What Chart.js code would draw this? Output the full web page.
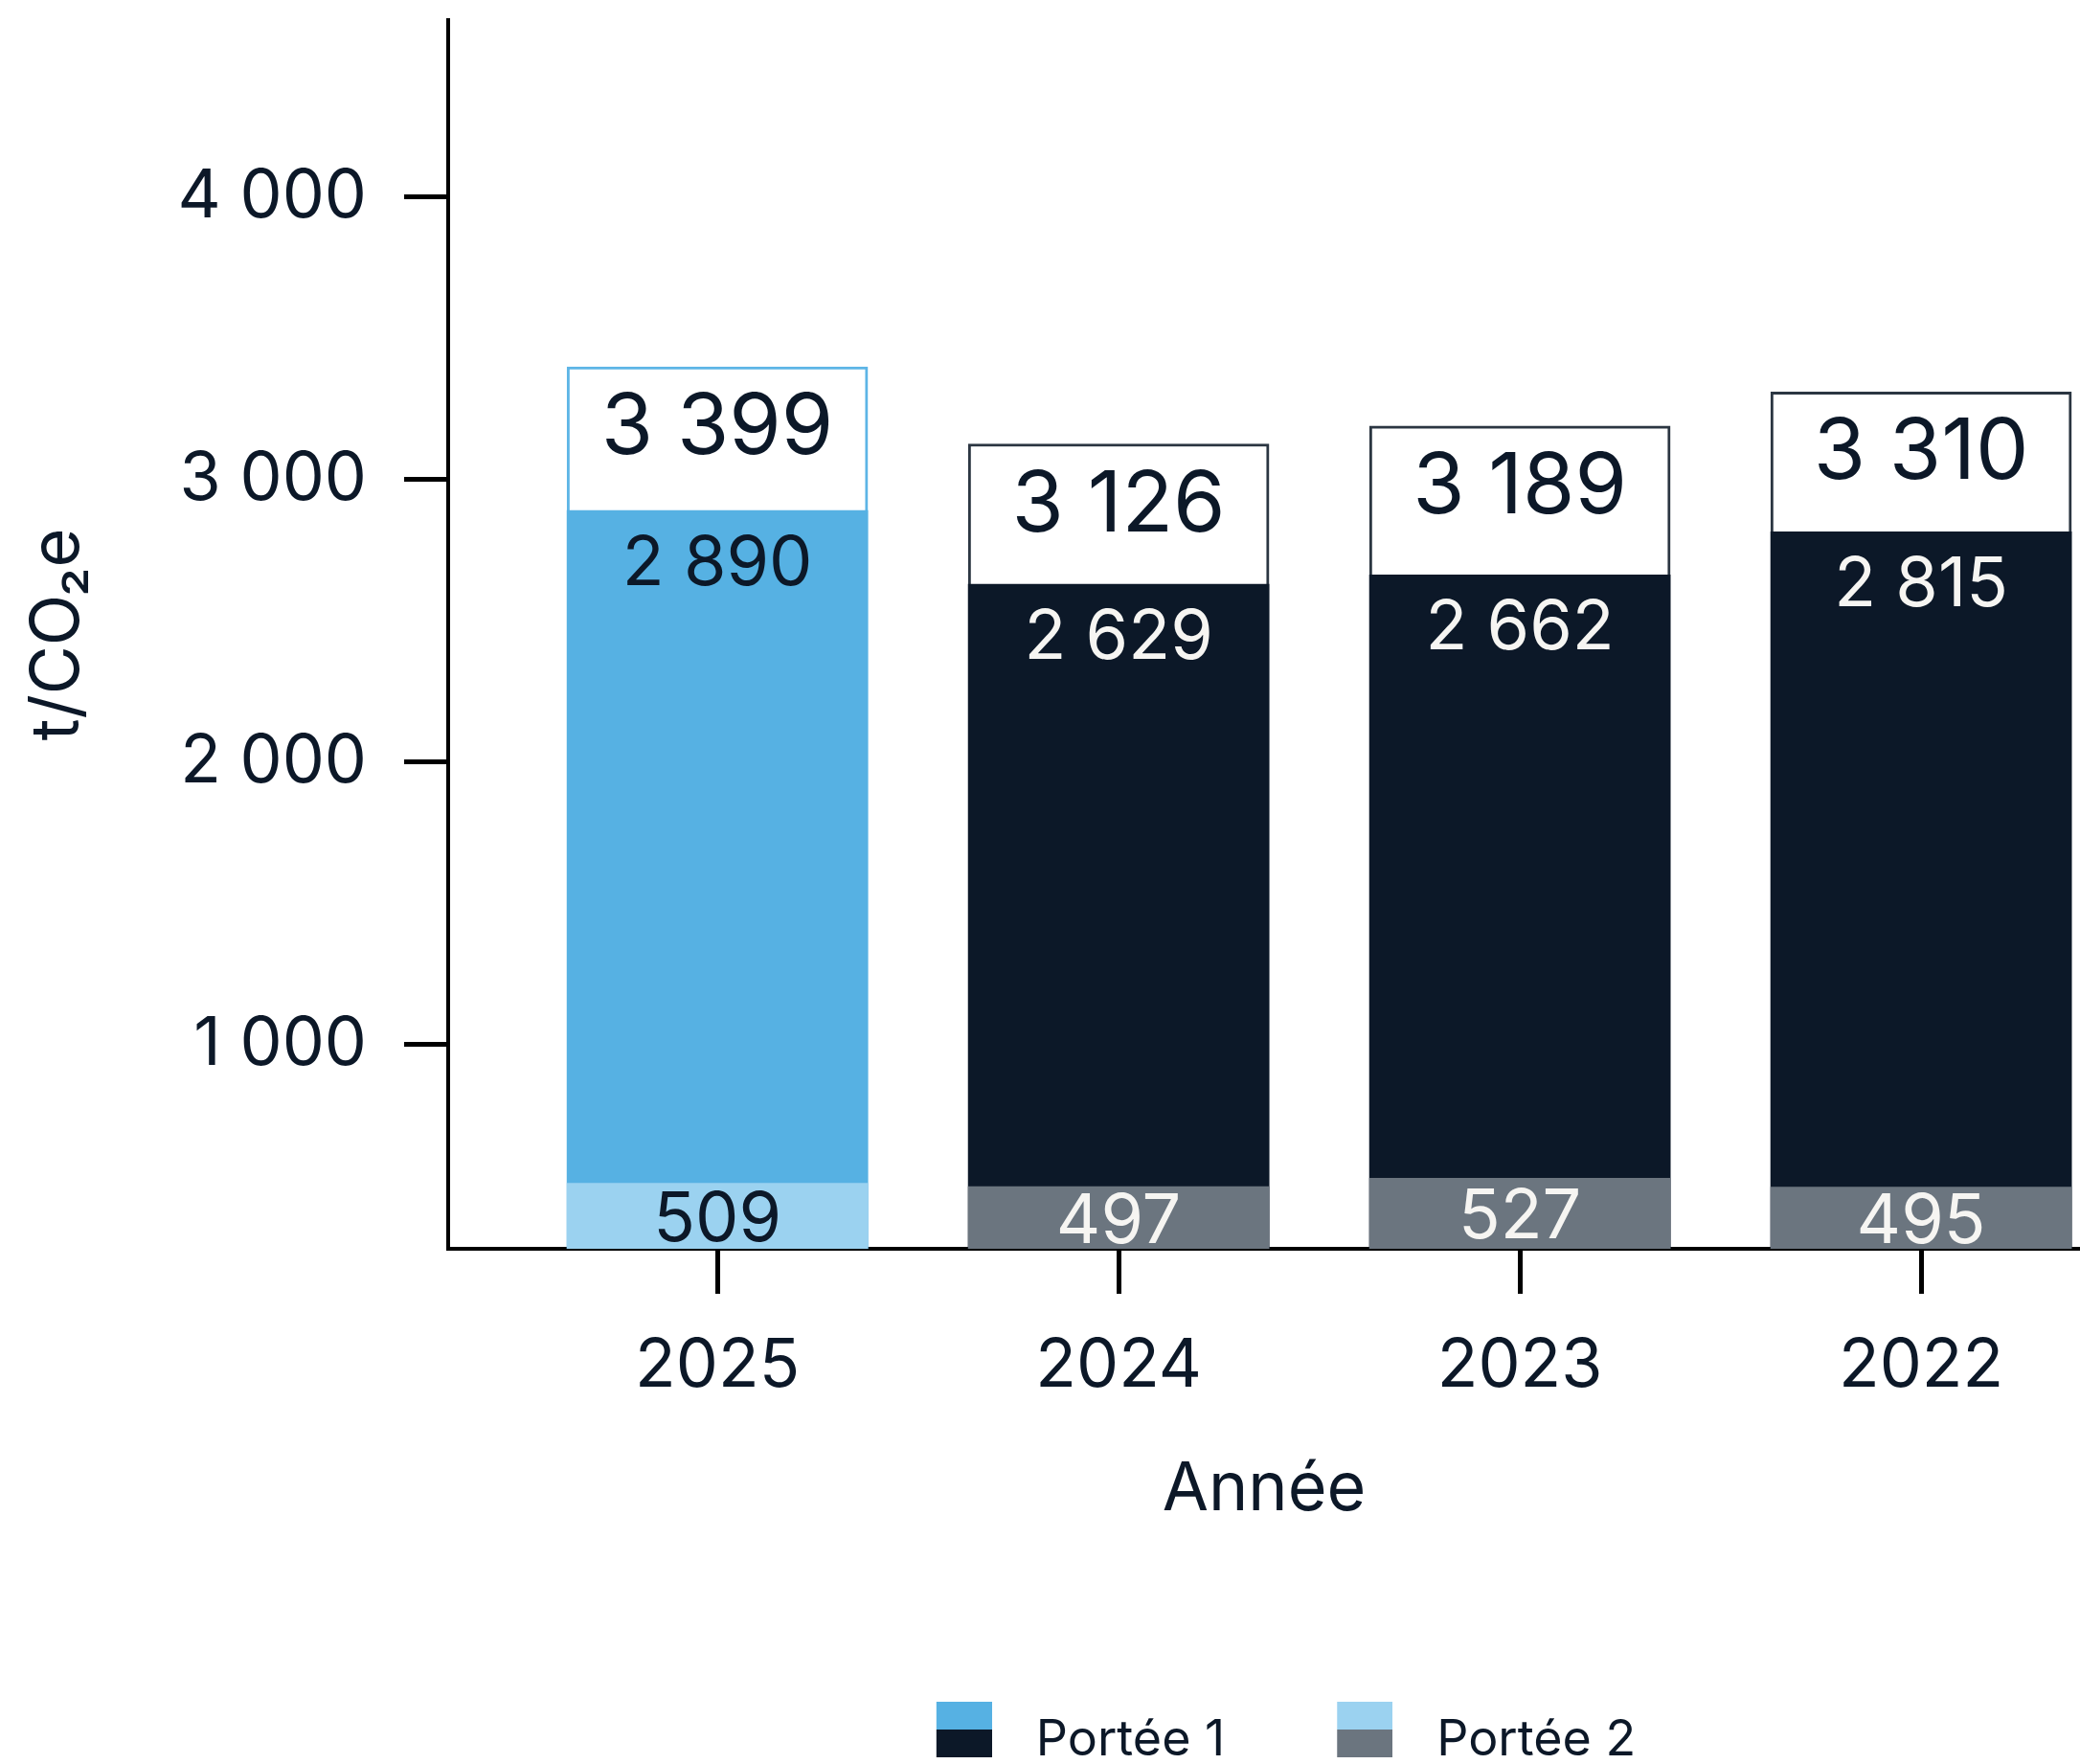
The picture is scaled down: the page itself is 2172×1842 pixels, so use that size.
<!DOCTYPE html>
<html>
<head>
<meta charset="utf-8">
<script src="https://cdn.jsdelivr.net/npm/chart.js@4/dist/chart.umd.min.js"></script>
<style>
  html, body { margin: 0; padding: 0; background: #ffffff; overflow: hidden; }
  #wrap { width: 2172px; height: 1842px; position: relative; }
  canvas { display: block; }
</style>
</head>
<body>
<div id="wrap"><canvas id="chart" width="2172" height="1842"></canvas></div>
<script>
// ---------- DATA ----------
const years = ['2025', '2024', '2023', '2022'];
const portee1 = [2890, 2629, 2662, 2815];
const portee2 = [509, 497, 527, 495];
const totals = [3399, 3126, 3189, 3310];
const yTickValues = [1000, 2000, 3000, 4000];
const seriesNames = ['Portée 1', 'Portée 2'];
const xAxisTitle = 'Année';
const yAxisTitle = 't/CO\u2082e';

// ---------- STYLE ----------
const FONT = 'Inter, "Liberation Sans", sans-serif';
const NAVY = '#0C1828';
const BLUE = '#56B1E3';
const LIGHT_BLUE = '#9BD2F0';
const GREY = '#6B757F';
const OFF_WHITE = '#F6F5F2';
const BOX_BORDER_2025 = '#5DB5E6';
const BOX_BORDER = '#2B3642';

const p1Colors = years.map((y, i) => i === 0 ? BLUE : NAVY);
const p2Colors = years.map((y, i) => i === 0 ? LIGHT_BLUE : GREY);
const boxBorders = years.map((y, i) => i === 0 ? BOX_BORDER_2025 : BOX_BORDER);

const fmt = v => String(v).replace(/\B(?=(\d{3})+(?!\d))/g, ' ');

// two-tone legend swatch (58x58 coloured area, offset inside a larger transparent image)
function swatch(top, bottom) {
  const c = document.createElement('canvas');
  c.width = 84; c.height = 80;
  const g = c.getContext('2d');
  g.fillStyle = top; g.fillRect(26, 0, 58, 29);
  g.fillStyle = bottom; g.fillRect(26, 29, 58, 29);
  return c;
}
const swatches = [swatch(BLUE, NAVY), swatch(LIGHT_BLUE, GREY)];

Chart.defaults.font.family = FONT;
Chart.defaults.color = NAVY;

const labelPlugin = {
  id: 'barLabels',
  afterDatasetsDraw(chart) {
    const ctx = chart.ctx;
    const m1 = chart.getDatasetMeta(0);
    const m2 = chart.getDatasetMeta(1);
    const mt = chart.getDatasetMeta(2);
    const bottom = chart.chartArea.bottom;
    ctx.save();
    ctx.textAlign = 'center';
    ctx.textBaseline = 'alphabetic';
    years.forEach((yr, i) => {
      const eT = mt.data[i], e1 = m1.data[i], e2 = m2.data[i];
      ctx.fillStyle = NAVY;
      ctx.font = '400 88px ' + FONT;
      ctx.fillText(fmt(totals[i]), eT.x, eT.y + 91);
      ctx.fillStyle = i === 0 ? NAVY : OFF_WHITE;
      ctx.font = '400 72px ' + FONT;
      ctx.fillText(fmt(portee1[i]), e1.x, e1.y + 78);
      const mid = (e2.y + bottom) / 2;
      ctx.fillText(fmt(portee2[i]), e2.x, mid + 26);
    });
    ctx.restore();
  }
};

const toXY = arr => arr.map((v, i) => ({ x: i, y: v }));

new Chart(document.getElementById('chart'), {
  type: 'bar',
  data: {
    datasets: [
      {
        label: seriesNames[0],
        data: toXY(portee1),
        backgroundColor: p1Colors,
        borderWidth: 0,
        order: 1
      },
      {
        label: seriesNames[1],
        data: toXY(portee2),
        backgroundColor: p2Colors,
        borderWidth: 0,
        order: 0
      },
      {
        label: 'Total',
        data: toXY(totals),
        backgroundColor: '#FFFFFF',
        borderColor: boxBorders,
        borderWidth: 3,
        borderSkipped: 'start',
        order: 2
      }
    ]
  },
  options: {
    responsive: false,
    devicePixelRatio: 1,
    animation: false,
    events: [],
    datasets: {
      bar: { grouped: false, barThickness: 314, clip: 0 }
    },
    layout: { padding: { top: 21, right: 0, bottom: -11, left: 0 } },
    scales: {
      x: {
        type: 'linear',
        offset: false,
        min: -0.671,
        max: 3.396,
        afterBuildTicks: s => { s.ticks = years.map((y, i) => ({ value: i })); },
        ticks: {
          callback: v => years[v],
          font: { size: 70, weight: '400' },
          color: NAVY,
          padding: 34,
          autoSkip: false,
          maxRotation: 0
        },
        grid: { display: true, offset: false, drawOnChartArea: false, drawTicks: true, tickLength: 47, tickWidth: 5, tickColor: '#000000' },
        border: { display: true, color: '#000000', width: 4 },
        title: { display: true, text: xAxisTitle, font: { size: 70, weight: '400' }, color: NAVY, padding: { top: 0, bottom: 122 } },
        afterFit: s => { s.height = 416; s.paddingLeft = 0; s.paddingRight = 0; }
      },
      y: {
        type: 'linear',
        stacked: false,
        min: 277,
        max: 4626,
        afterBuildTicks: s => { s.ticks = yTickValues.map(v => ({ value: v })); },
        ticks: {
          callback: v => fmt(v),
          font: { size: 70, weight: '400' },
          color: NAVY,
          padding: 39
        },
        grid: { display: true, drawOnChartArea: false, drawTicks: true, tickLength: 46, tickWidth: 5, tickColor: '#000000' },
        border: { display: true, color: '#000000', width: 4 },
        title: { display: true, text: yAxisTitle, font: { size: 70, weight: '400' }, color: NAVY, padding: { top: 19, bottom: 0 } },
        afterFit: s => { s.width = 468; s.paddingTop = 0; s.paddingBottom = 0; }
      }
    },
    plugins: {
      tooltip: { enabled: false },
      legend: {
        display: true,
        position: 'bottom',
        fullSize: false,
        align: 'center',
        labels: {
          usePointStyle: true,
          pointStyleWidth: 124,
          padding: 71,
          font: { size: 52, weight: '400' },
          color: NAVY,
          generateLabels: () => seriesNames.map((name, i) => ({
            text: name,
            pointStyle: swatches[i],
            fillStyle: i === 0 ? BLUE : LIGHT_BLUE,
            strokeStyle: 'rgba(0,0,0,0)',
            lineWidth: 0,
            hidden: false,
            datasetIndex: i,
            fontColor: NAVY
          }))
        }
      }
    }
  },
  plugins: [labelPlugin]
});
</script>
</body>
</html>
